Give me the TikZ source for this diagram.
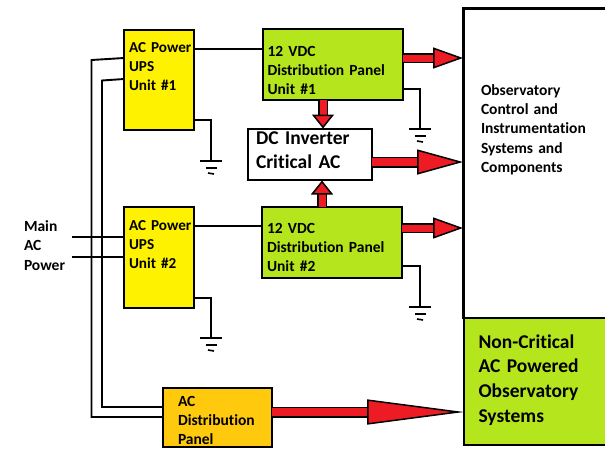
\documentclass[tikz,border=0pt]{standalone}
\usepackage{fontspec}
\setmainfont[Ligatures=NoCommon]{Carlito}
\usepackage{xcolor}
\usetikzlibrary{arrows.meta,calc}
\definecolor{cUpsF}{HTML}{FFF200}
\definecolor{cPanelF}{HTML}{B5E61D}
\definecolor{cDistF}{HTML}{FFC90E}
\definecolor{cFlow}{HTML}{ED1C24}
\tikzset{
  blockbox/.style={draw=black,line width=2.2pt,outer sep=0pt,inner ysep=0pt,align=left,
      font=\bfseries\fontsize{15.5}{19.4}\selectfont},
  upsbox/.style={blockbox,fill=cUpsF,font=\bfseries\fontsize{15.2}{19.4}\selectfont},
  panelbox/.style={blockbox,fill=cPanelF},
  distbox/.style={blockbox,fill=cDistF,font=\bfseries\fontsize{15.5}{19}\selectfont},
  plainbox/.style={blockbox,fill=white},
  bigtext/.style={font=\bfseries\fontsize{19.5}{24.8}\selectfont},
  wire/.style={draw=black,line width=1.9pt},
  gndbar/.style={draw=black,line width=1.6pt},
  sidelab/.style={anchor=base west,inner sep=0pt,outer sep=0pt,align=left,
      font=\bfseries\fontsize{15.5}{19.4}\selectfont},
  flowbig/.style={draw=black,line width=1.5pt,double=cFlow,double distance=#1,
      -{Triangle[length=46pt,width=25pt,fill=cFlow,color=black,line width=1.5pt]}},
  flowmid/.style={draw=black,line width=1.5pt,double=cFlow,double distance=#1,
      -{Triangle[length=30pt,width=21pt,fill=cFlow,color=black,line width=1.5pt]}},
  flowtiny/.style={draw=black,line width=1.5pt,double=cFlow,double distance=#1,
      -{Triangle[length=14pt,width=22pt,fill=cFlow,color=black,line width=1.5pt]}},
}
% style, name, x1, y1, x2, y2, text inset, first baseline, text
\newcommand{\block}[9]{%
  \node[#1,anchor=north west,inner xsep=#7pt,text width=(#5-#3-2*#7)*1pt,
    text height=(#8-#4)*1pt,text depth=(#6-#8)*1pt] (#2) at (#3,#4) {#9};}
\newcommand{\groundsym}[3]{%
  \coordinate (#1) at (#2,#3);
  \draw[gndbar] ([xshift=-11pt]#1) -- ([xshift=11pt]#1);
  \draw[gndbar] ([xshift=-5.5pt,yshift=-7pt]#1) -- ([xshift=5.5pt,yshift=-7pt]#1);
  \draw[gndbar] ([xshift=-3pt,yshift=-12pt]#1) -- ([xshift=3pt,yshift=-13pt]#1);}
\begin{document}
\begin{tikzpicture}[x=1pt,y=-1pt]
  \useasboundingbox (0,0) rectangle (605,448);

  \block{plainbox}{obs}{463.5}{8.5}{610}{318}{17.5}{95}{Observatory\\Control and\\Instrumentation\\Systems and\\Components}
  \block{panelbox,bigtext}{noncrit}{464}{318}{610}{445}{14.5}{348}{Non-Critical\\AC Powered\\Observatory\\Systems}
  \block{upsbox}{ups1}{124}{30}{194}{130}{5}{52}{AC~Power\\UPS\\Unit~\#1}
  \block{upsbox}{ups2}{124}{207}{194}{308}{5}{230}{AC~Power\\UPS\\Unit~\#2}
  \block{panelbox}{dca}{263}{29}{403}{100}{4.5}{56}{12~VDC\\Distribution~Panel\\Unit~\#1}
  \block{panelbox}{dcb}{262}{207}{402}{278}{5}{233}{12~VDC\\Distribution~Panel\\Unit~\#2}
  \block{plainbox,bigtext}{inv}{248}{129}{372}{180}{8}{144}{DC~Inverter\\Critical~AC}
  \block{distbox}{acd}{163}{388}{272}{447}{15}{406.5}{AC\\Distribution\\Panel}

  \node[sidelab] (mainlab) at (24,270) {Main\\AC\\Power};

  \coordinate (inA) at (463,58);
  \coordinate (inB) at (463,162);
  \coordinate (inC) at (463,228);
  \coordinate (inD) at (464,412);
  \coordinate (acA) at (72,237);
  \coordinate (acB) at (72,257);

  \draw[wire] (ups1.east |- 0,49) -- (dca.west |- 0,49);
  \draw[wire] (ups2.east |- 0,226) -- (dcb.west |- 0,226);
  \draw[wire] (acA) -- (ups2.west |- acA);
  \draw[wire] (acB) -- (ups2.west |- acB);
  \draw[wire] (ups1.west |- 0,58) -- (91.5,60) -- (91.5,417) -- (acd.west |- 0,417);
  \draw[wire] (ups1.west |- 0,79) -- (102,80.5) -- (102,407) -- (acd.west |- 0,407);

  \groundsym{gndA}{211}{161}
  \groundsym{gndB}{211}{338}
  \groundsym{gndC}{420}{129}
  \groundsym{gndD}{420}{307}
  \draw[wire] (ups1.east |- 0,120) -| (gndA);
  \draw[wire] (ups2.east |- 0,298) -| (gndB);
  \draw[wire] (dca.east |- 0,89) -| (gndC);
  \draw[wire] (dcb.east |- 0,266) -| (gndD);

  \draw[flowmid=7pt] (dca.east |- inA) -- (inA);
  \draw[flowbig=8pt] (inv.east |- inB) -- (inB);
  \draw[flowmid=7pt] (dcb.east |- inC) -- (inC);
  \draw[flowbig=8pt,-{Triangle[length=97pt,width=25pt,fill=cFlow,color=black,line width=1.5pt]}] (acd.east |- inD) -- (inD);
  \draw[flowtiny=7pt] (323,100) -- (323,128.5);
  \draw[flowtiny=7pt] (322,207) -- (322,180.5);
\end{tikzpicture}
\end{document}
